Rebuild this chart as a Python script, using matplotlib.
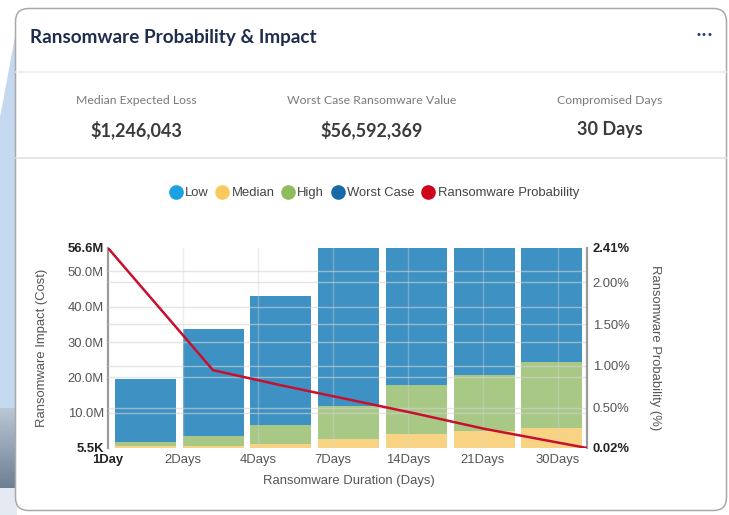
import numpy as np
import matplotlib
matplotlib.use("Agg")
import matplotlib.pyplot as plt
from matplotlib.patches import FancyBboxPatch, Rectangle
from matplotlib.lines import Line2D
from matplotlib.colors import LinearSegmentedColormap

# ---------------- data ----------------
categories = ["1Day", "2Days", "4Days", "7Days", "14Days", "21Days", "30Days"]
low_cost = [0.3, 0.3, 0.5, 1.0, 1.5, 2.0, 2.5]          # hidden behind median
median_cost = [0.5, 0.6, 1.1, 2.5, 4.0, 4.7, 5.6]
high_cost = [1.6, 3.3, 6.5, 12.0, 17.9, 20.8, 24.2]
worst_cost = [19.6, 33.8, 43.1, 56.59, 56.59, 56.59, 56.59]
probability = [2.41, 0.95, 0.77, 0.60, 0.43, 0.25, 0.02]

left_ticks = [0.0055, 10, 20, 30, 40, 50, 56.6]
left_labels = ["5.5K", "10.0M", "20.0M", "30.0M", "40.0M", "50.0M", "56.6M"]
right_ticks = [0.02, 0.5, 1.0, 1.5, 2.0, 2.41]
right_labels = ["0.02%", "0.50%", "1.00%", "1.50%", "2.00%", "2.41%"]

stat_titles = ["Median Expected Loss", "Worst Case Ransomware Value", "Compromised Days"]
stat_values = ["$1,246,043", "$56,592,369", "30 Days"]

series_names = ["Low", "Median", "High", "Worst Case", "Ransomware Probability"]
legend_colors = ["#1ba1e2", "#f8c95e", "#8fbd5e", "#176aa5", "#d0021b"]
bar_colors = {"low": "#5bb8e6", "median": "#f9d384", "high": "#a8c886", "worst": "#3d91c3"}

W, H = 729, 515
fig = plt.figure(figsize=(W / 100, H / 100), dpi=100)

# ---------------- decorative background ----------------
bg = fig.add_axes([0, 0, 1, 1], zorder=0)
bg.fill([17, 17, 0, 0], [27, 408, 408, 118], color="#c4d8f0", zorder=1)
grad = np.linspace(0, 1, 100).reshape(-1, 1)
cmap = LinearSegmentedColormap.from_list("g", ["#b9c7d6", "#6e7f94"])
bg.imshow(grad, cmap=cmap, extent=(0, 17, 488, 408), aspect="auto", zorder=1)
bg.add_patch(Rectangle((0, 488), 17, 30, facecolor="#e3eaf2", edgecolor="none", zorder=1))
bg.set_xlim(0, W)
bg.set_ylim(H, 0)
bg.axis("off")
card = FancyBboxPatch((15.5, 8.5), 711, 502, boxstyle="round,pad=0,rounding_size=13",
                      facecolor="white", edgecolor="#a9a9a9", linewidth=1.1, zorder=2)
bg.add_patch(card)
bg.plot([16, 726], [72, 72], color="#ececec", lw=1.2, zorder=3)
bg.plot([16, 726], [158, 158], color="#e2e2e2", lw=1.2, zorder=3)

bg.text(30, 37, "Ransomware Probability & Impact", fontsize=13.6, fontweight="bold",
        family="Lato", color="#1f2d4d", va="center", ha="left", zorder=4)
bg.text(705, 35, "•••", fontsize=7.5, color="#1f3a78", va="center", ha="center", zorder=4)

for cx, t, v in zip([136, 372, 610], stat_titles, stat_values):
    bg.text(cx, 101, t, fontsize=8.8, family="Lato", color="#7a7a7a",
            ha="center", va="center", zorder=4)
    bg.text(cx, 130, v, fontsize=13, family="Lato", fontweight="bold", color="#3a3a3a",
            ha="center", va="center", zorder=4)

# ---------------- chart ----------------
plt.rcParams["font.family"] = ["Liberation Sans", "DejaVu Sans"]
FS = 9.4
ax = fig.add_axes([108 / W, 1 - 448 / H, 479 / W, 200 / H], zorder=2)
ax.patch.set_alpha(0)
x = np.arange(len(categories))
xmin, xmax = -0.55, 6.52
bw = 0.9
ax.bar(x, worst_cost, width=bw, color=bar_colors["worst"], zorder=2)
ax.bar(x, high_cost, width=bw, color=bar_colors["high"], zorder=3)
ax.bar(x, low_cost, width=bw, color=bar_colors["low"], zorder=3.5)
ax.bar(x, median_cost, width=bw, color=bar_colors["median"], zorder=4)
ax.set_xlim(xmin, xmax)
ax.set_ylim(left_ticks[0], left_ticks[-1])

label_step = 1.106
xt = xmin + np.arange(len(categories)) * label_step
ax.set_xticks(xt)
ax.set_xticklabels(categories)
ax.set_yticks(left_ticks)
ax.set_yticklabels(left_labels)
ax.tick_params(axis="both", length=0, labelsize=FS, colors="#555555")
ax.tick_params(axis="x", pad=4)
ax.tick_params(axis="y", pad=3)
for lab in (ax.get_yticklabels()[0], ax.get_yticklabels()[-1], ax.get_xticklabels()[0]):
    lab.set_fontweight("bold")
    lab.set_color("#222222")

for s in ["top", "bottom", "right"]:
    ax.spines[s].set_visible(False)
ax.spines["left"].set_color("#9a9a9a")
ax.spines["left"].set_linewidth(1.6)

for yv in left_ticks[1:-1]:
    ax.axhline(yv, color="#d4d4d4", lw=1, alpha=0.6, zorder=5)
for xv in xt[1:]:
    ax.axvline(xv, color="#d4d4d4", lw=1, alpha=0.4, zorder=5)

ax.set_ylabel("Ransomware Impact (Cost)", fontsize=FS, color="#555555")
ax.yaxis.set_label_coords(-(108 - 48) / 479, 0.5)
ax.set_xlabel("Ransomware Duration (Days)", fontsize=FS, color="#555555")
ax.xaxis.set_label_coords((349 - 108) / 479, -(475 - 448) / 200)

ax2 = ax.twinx()
ax2.set_ylim(right_ticks[0], right_ticks[-1])
for yv in right_ticks[1:-1]:
    ax2.axhline(yv, color="#d4d4d4", lw=1, alpha=0.6, zorder=1)
x_line = x.astype(float)
x_line[0] = xmin
x_line[-1] = xmax
ax2.plot(x_line, probability, color="#c8102e", lw=1.8, zorder=6, solid_joinstyle="round")
ax2.set_yticks(right_ticks)
ax2.set_yticklabels(right_labels)
ax2.tick_params(axis="y", length=0, labelsize=FS, colors="#555555", pad=4)
for lab in (ax2.get_yticklabels()[0], ax2.get_yticklabels()[-1]):
    lab.set_fontweight("bold")
    lab.set_color("#222222")
for s in ["top", "bottom", "left"]:
    ax2.spines[s].set_visible(False)
ax2.spines["right"].set_color("#9a9a9a")
ax2.spines["right"].set_linewidth(1.6)
ax2.set_ylabel("Ransomware Probability (%)", fontsize=FS, color="#555555", rotation=-90)
ax2.yaxis.set_label_coords((661 - 108) / 479, 0.5)

handles = [Line2D([], [], marker="o", linestyle="none", markersize=9.5,
                  markerfacecolor=c, markeredgecolor=c) for c in legend_colors]
fig.legend(handles, series_names, loc="center", bbox_to_anchor=(374 / W, 1 - 193 / H),
           ncol=5, frameon=False, fontsize=FS, handletextpad=0.2, columnspacing=0.55,
           handlelength=1.0, labelcolor="#444444")

fig.savefig("out.png", dpi=100)
